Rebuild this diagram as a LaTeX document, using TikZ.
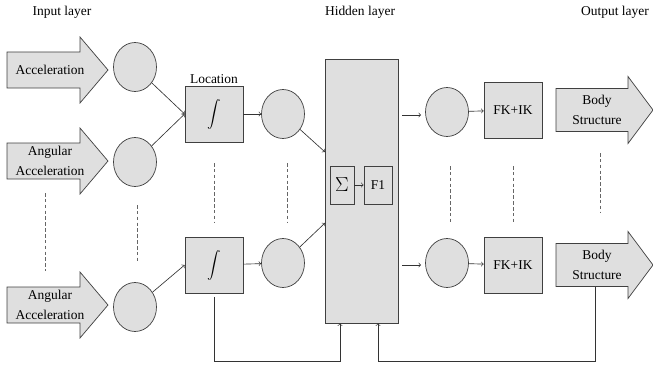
\documentclass[tikz,border=0pt]{standalone}
\usepackage{amsmath,amssymb}
\usepackage{fontspec}
\setmainfont{Liberation Serif}
\usetikzlibrary{arrows,shapes,positioning,calc}
\pgfdeclarelayer{background}
\pgfsetlayers{background,main}
\tikzset{
    neuron/.style={
        ellipse,
        draw=black!75,
        fill=gray!25,
        line width=0.6pt,
        minimum width=1.29cm,
        minimum height=1.47cm,
        inner sep=0pt,
    },
    block/.style={
        rectangle,
        draw=black!75,
        fill=gray!25,
        line width=0.6pt,
        minimum width=1.74cm,
        minimum height=1.68cm,
        inner sep=0pt,
    },
    small block/.style={
        rectangle,
        draw=black!75,
        fill=gray!25,
        line width=0.6pt,
        minimum height=1.14cm,
        inner sep=0pt,
    },
    arrowtext/.style={
        align=center,
        inner sep=0pt,
        font=\fontsize{11.5}{17}\selectfont,
    },
    arrowshape/.style={
        draw=black!75,
        fill=gray!25,
        line width=0.6pt,
        line join=miter,
    },
    dots/.style={
        draw=black!60,
        densely dashed,
        line width=0.45pt,
    },
    every edge/.style={
        draw,
        ->,>=to,
        draw=black!80,
        line width=0.55pt,
    },
    every node/.style={
        font=\fontsize{11.5}{13}\selectfont,
    },
}

\begin{document}
\begin{tikzpicture}[x=0.03cm,y=-0.03cm]
    \useasboundingbox (0,0) rectangle (653,366);
    % layer titles
    \node (TIn) at (62,12) {Input layer};
    \node (THid) at (360,12) {Hidden layer};
    \node (TOut) at (615,12) {Output layer};
    % inputs
    \node [arrowtext] (A1) at (50,70) {Acceleration};
    \node [arrowtext] (A2) at (50,161) {Angular\\Acceleration};
    \node [arrowtext] (A3) at (50,305) {Angular\\Acceleration};
    \node [neuron] (C1) at (135,67) {};
    \node [neuron] (C2) at (135,162) {};
    \node [neuron] (C3) at (135,307) {};
    % integration
    \node [block, label={[yshift=-2pt]above:Location}] (I1) at (214,114) {$\displaystyle\int$};
    \node [block] (I2) at (214,265) {$\displaystyle\int$};
    \node [neuron] (D1) at (283,114) {};
    \node [neuron] (D2) at (283,263) {};
    % hidden layer
    \node [rectangle, draw=black!75, fill=gray!25, line width=0.6pt,
           minimum width=2.19cm, minimum height=7.92cm] (H) at (361.5,191) {};
    \node [small block, minimum width=0.72cm] (S) at (342,185) {\LARGE$\Sigma$};
    \node [small block, minimum width=0.84cm] (F) at (378,185) {F1};
    \coordinate (H1) at (325,152);
    \coordinate (H2) at (325,223);
    \coordinate (O1s) at (402,115);
    \coordinate (O1e) at (421,115);
    \coordinate (O2s) at (402,265);
    \coordinate (O2e) at (421,265);
    % outputs
    \node [neuron] (E1) at (447,112) {};
    \node [neuron] (E2) at (447,263) {};
    \node [block] (K1) at (513,110) {FK+IK};
    \node [block] (K2) at (513,265) {FK+IK};
    \node [arrowtext] (B1) at (597,110) {Body\\Structure};
    \node [arrowtext] (B2) at (597,265) {Body\\Structure};
    % block arrows behind the texts
    \begin{pgfonlayer}{background}
    \foreach \n in {A1,A2,A3}
        \draw [arrowshape] ($(\n)+(-43,-18)$) -- ++(73,0) -- ++(0,-15)
            -- ($(\n)+(58,0)$) -- ($(\n)+(30,33)$) -- ++(0,-15)
            -- ($(\n)+(-43,18)$) -- cycle;
    \foreach \n in {B1,B2}
        \draw [arrowshape] ($(\n)+(-41,-21.5)$) -- ++(72,0) -- ++(0,-12)
            -- ($(\n)+(56,0)$) -- ($(\n)+(31,33.5)$) -- ++(0,-12)
            -- ($(\n)+(-41,21.5)$) -- cycle;
    \end{pgfonlayer}
    % connections
    \draw (C1) edge (I1.west);
    \draw (C2) edge (I1.west);
    \draw (C3) edge (I2.west);
    \draw (I1) edge (D1);
    \draw (I2) edge (D2);
    \draw (D1) edge (H1);
    \draw (D2) edge (H2);
    \draw (S) edge (F);
    \draw (O1s) edge (O1e);
    \draw (O2s) edge (O2e);
    \draw (E1) edge (K1);
    \draw (E2) edge (K2);
    % feedback
    \coordinate (FB1) at (340,361);
    \coordinate (FB2) at (378,361);
    \coordinate (B2b) at (595,287);
    \draw [->, >=to, draw=black!80, line width=0.55pt] ([yshift=-3pt]I2.south) |- (FB1) -- (FB1 |- H.south);
    \draw [->, >=to, draw=black!80, line width=0.55pt] (B2b) |- (FB2) -- (FB2 |- H.south);
    % dotted continuation
    \draw [dots] (45,193) -- (45,271);
    \draw [dots] (137,205) -- (137,262);
    \draw [dots] (214,163) -- (214,223);
    \draw [dots] (287,163) -- (287,223);
    \draw [dots] (450,166) -- (450,223);
    \draw [dots] (513,166) -- (513,223);
    \draw [dots] (600,153) -- (600,212);
\end{tikzpicture}
\end{document}
